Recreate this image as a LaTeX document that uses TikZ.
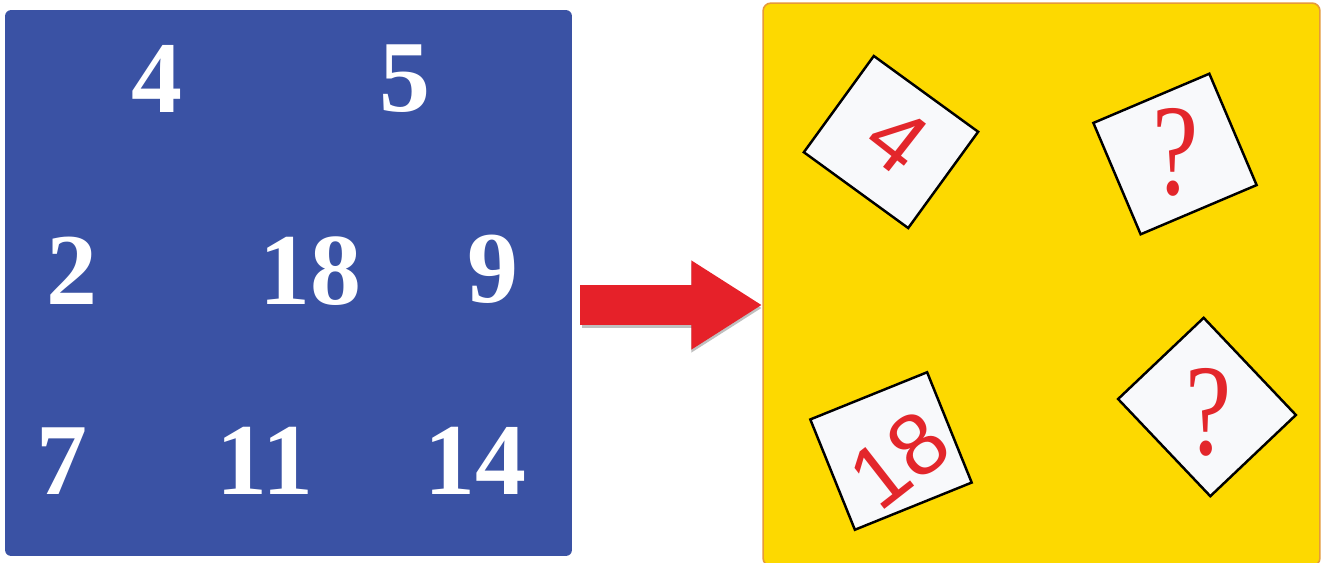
\documentclass[tikz,border=0pt]{standalone}
\usepackage{fontspec}
\setmainfont{Liberation Serif}
\newfontfamily\cardsans{Liberation Sans}
\usepackage{graphicx}
\usepackage{xcolor}
\usepackage{tikz}
\usetikzlibrary{arrows.meta,positioning}
\definecolor{panelblue}{HTML}{3A52A4}
\definecolor{panelyellow}{HTML}{FDD900}
\definecolor{panelorange}{HTML}{E59A3A}
\definecolor{cardred}{HTML}{E3262B}
\definecolor{arrowred}{HTML}{E62129}
\definecolor{cardwhite}{HTML}{F8F9FB}

\begin{document}
\begin{tikzpicture}[x=0.02cm, y=-0.02cm,
  bluepanel/.style={fill=panelblue, rounded corners=3.4pt, minimum width=11.34cm,
                    minimum height=10.92cm, inner sep=0pt},
  yellowpanel/.style={fill=panelyellow, draw=panelorange, line width=0.9pt,
                      rounded corners=4.5pt, minimum width=11.14cm,
                      minimum height=11.26cm, inner sep=0pt},
  bluenum/.style={text=white, inner sep=0pt,
                  font=\fontsize{58}{60}\selectfont\bfseries},
  card/.style={draw=black, line width=1.4pt, fill=cardwhite, inner sep=0pt,
               minimum width=2.56cm, minimum height=2.38cm},
  cardnum/.style={text=cardred, inner sep=0pt,
                  font=\cardsans\fontsize{50}{52}\selectfont},
  cardq/.style={text=cardred, inner sep=0pt,
                font=\fontsize{74}{76}\selectfont},
  arr/.style={-{Triangle[length=1.42cm, width=1.68cm]}, line width=0.8cm}
]
\useasboundingbox (0,0) rectangle (1323,562);

\node[bluepanel] (blue) at (288.5,283) {};
\node[yellowpanel] (yellow) at (1041.5,284.5) {};

\node[bluenum] (n4) at (157,79) {4};
\node[bluenum] (n5) at (405,79) {5};
\node[bluenum] (n2) at (72,271) {2};
\node[bluenum] (n18) at (310,271) {18};
\node[bluenum] (n9) at (493,269) {9};
\node[bluenum] (n7) at (62,461) {7};
\node[bluenum] (n11) at (265,461) {11};
\node[bluenum] (n14) at (475,461) {14};

\coordinate (arrfrom) at (580,305);
\coordinate (shadowfrom) at (582,308);
\draw[arr, draw=black, opacity=0.25] (shadowfrom) -- (shadowfrom -| yellow.west);
\draw[arr, draw=arrowred] (arrfrom) -- (arrfrom -| yellow.west);

\node[card, rotate=-36, minimum width=2.58cm] (c4) at (891,142) {};
\node[card, rotate=23, minimum width=2.52cm, minimum height=2.42cm] (cq1) at (1175,154) {};
\node[card, rotate=22, minimum width=2.52cm] (c18) at (891,451) {};
\node[card, rotate=-46.5, minimum width=2.68cm, minimum height=2.36cm] (cq2) at (1207,407) {};

\node[cardnum, rotate=-38] (t4) at (897,140) {4};
\node[cardnum, rotate=38] (t18) at (899,460) {18};
\node[cardq] (tq1) at (1176,152) {\scalebox{0.8}[1]{?}};
\node[cardq] (tq2) at (1209,412) {\scalebox{0.8}[1]{?}};
\end{tikzpicture}
\end{document}
